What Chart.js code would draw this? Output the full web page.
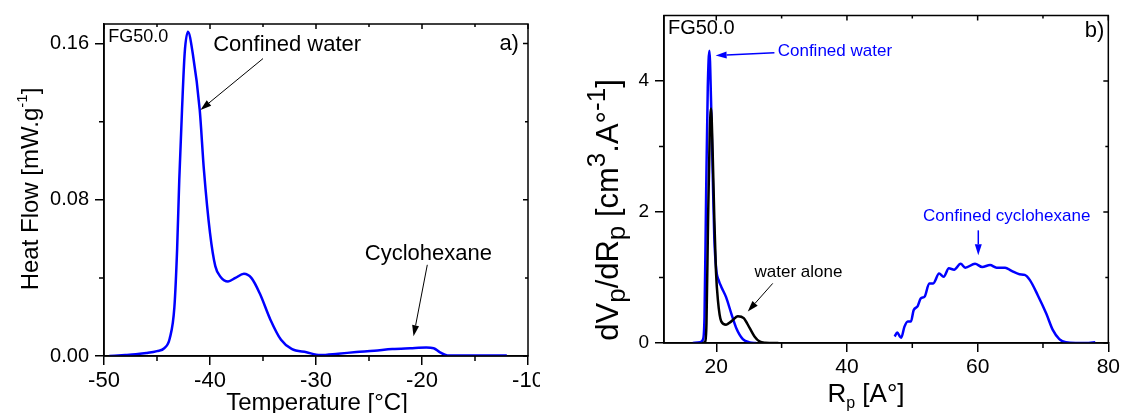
<!DOCTYPE html>
<html lang="en">

<head>
  <title>FG50.0 - DSC and pore size distribution</title>
  <meta charset="UTF-8">
  <script src="https://cdn.jsdelivr.net/npm/chart.js@4.4.1/dist/chart.umd.min.js"></script>
  <style>
    body { margin: 0; background: #fff; }
    #wrap { position: relative; width: 1125px; height: 413px; overflow: hidden; background: #fff; }
    #left { position: absolute; left: 0; top: 0; width: 540px; height: 413px; overflow: hidden; }
    #right { position: absolute; left: 540px; top: 0; width: 585px; height: 413px; }
  </style>
</head>

<body>
  <div id="wrap">
    <div id="left"><canvas id="dsc" width="560" height="413" style="width:560px;height:413px"></canvas></div>
    <div id="right"><canvas id="psd" width="585" height="413" style="width:585px;height:413px"></canvas></div>
  </div>
  <script>
    // a) DSC melting curve
    const tempC = [-49.5, -48, -47, -46, -45, -44.3, -43.8, -43.36, -43.1, -42.9, -42.64, -42.39, -42.08, -41.63,
      -40.97, -40.57, -40.0, -39.5, -39.0, -38.3, -37.6, -36.8, -36.1, -35.3, -34.3, -33.3, -32.3, -30.9, -29.6,
      -27.9, -26.2, -24.5, -22.8, -21.1, -19.6, -18.9, -18.3, -17.6, -16, -14, -12];
    const heatFlow = [0, 0.0005, 0.0009, 0.0015, 0.0025, 0.004, 0.009, 0.025, 0.055, 0.09, 0.126, 0.155, 0.166, 0.155,
      0.126, 0.095, 0.063, 0.046, 0.0405, 0.0382, 0.040, 0.0421, 0.040, 0.032, 0.0186, 0.0083, 0.0036, 0.0019, 0.0005,
      0.0012, 0.002, 0.0027, 0.0036, 0.004, 0.0043, 0.004, 0.0019, 0.0003, 0.0002, 0.0002, 0.0002];
    const dscXTicks = [-50, -40, -30, -20, -10];
    const dscXMinor = [-45, -35, -25, -15];
    const dscYTicks = [0, 0.08, 0.16];
    const dscYMinor = [0.04, 0.12];

    // b) pore size distributions
    const radiusWater = [16.4, 17.5, 17.95, 18.2, 18.45, 18.7, 18.95, 19.2, 19.45, 19.7, 20.0, 20.4, 20.76, 21.5,
      22.3, 23.05, 24.06, 25.1, 26.1];
    const dvWater = [0, 0.01, 0.05, 0.4, 2.3, 3.9, 4.46, 3.7, 2.6, 1.6, 1.12, 0.95, 0.86, 0.70, 0.45, 0.23, 0.06, 0.01, 0];
    const radiusAlone = [17.9, 18.3, 18.5, 18.75, 19.0, 19.2, 19.45, 19.7, 19.95, 20.25, 20.76, 21.5, 22.3, 23.3,
      24.2, 25.1, 25.85, 26.6, 27.5, 29.5];
    const dvAlone = [0, 0.02, 0.3, 1.9, 3.2, 3.58, 2.9, 1.9, 1.1, 0.655, 0.33, 0.28, 0.33, 0.41, 0.38, 0.23, 0.1,
      0.025, 0.005, 0];
    const radiusCyclo = [47.3, 47.7, 48.1, 48.3, 48.8, 49.3, 49.8, 50.2, 50.8, 51.3, 51.9, 52.6, 53.2, 54.1, 54.8,
      55.6, 56.4, 57.4, 58.1, 59.6, 60.7, 61.9, 62.9, 64.2, 65.2, 66.4, 67.2, 68.0, 69.2, 70.5, 71.5, 72.5, 73.5,
      75, 77, 78];
    const dvCyclo = [0.10, 0.16, 0.10, 0.08, 0.25, 0.33, 0.33, 0.50, 0.56, 0.68, 0.71, 0.91, 0.91, 1.06, 1.01, 1.14,
      1.12, 1.21, 1.15, 1.21, 1.16, 1.19, 1.15, 1.15, 1.10, 1.05, 1.04, 0.96, 0.73, 0.45, 0.20, 0.06, 0.01, 0, 0, 0.01];
    const psdXTicks = [20, 40, 60, 80];
    const psdXMinor = [30, 50, 70];
    const psdYTicks = [0, 2, 4];
    const psdYMinor = [1, 3];

    const BLUE = '#0000ff';
    const FONT = "'Liberation Sans', Arial, sans-serif";
    Chart.defaults.font.family = FONT;
    Chart.defaults.color = '#000';

    const zip = (xs, ys) => xs.map((x, i) => ({ x: x, y: ys[i] }));

    // text with sub/superscript pieces, centred on x (or y when rotated), baseline at the other coordinate
    function richText(ctx, t) {
      const size = t.size;
      const small = Math.round(size * (t.scriptScale || 0.62));
      const parts = t.parts;
      const fonts = parts.map(p => (p[1] === 'n' ? size : small) + 'px ' + FONT);
      const widths = parts.map((p, i) => { ctx.font = fonts[i]; return ctx.measureText(p[0]).width; });
      const total = widths.reduce((a, b) => a + b, 0);
      ctx.save();
      ctx.translate(t.x, t.y);
      if (t.rotate) ctx.rotate(-Math.PI / 2);
      ctx.textBaseline = 'alphabetic';
      ctx.textAlign = 'left';
      ctx.fillStyle = '#000';
      let cx = -total / 2;
      parts.forEach((p, i) => {
        const dy = p[1] === 'sup' ? -size * 0.42 : p[1] === 'sub' ? size * 0.24 : 0;
        ctx.font = fonts[i];
        ctx.fillText(p[0], cx, dy);
        cx += widths[i];
      });
      ctx.restore();
    }

    function arrow(ctx, x1, y1, x2, y2, color, width) {
      const head = 11, half = 3.5;
      const ang = Math.atan2(y2 - y1, x2 - x1);
      const bx = x2 - head * Math.cos(ang), by = y2 - head * Math.sin(ang);
      ctx.strokeStyle = color;
      ctx.fillStyle = color;
      ctx.lineWidth = width;
      ctx.beginPath();
      ctx.moveTo(x1, y1);
      ctx.lineTo(bx, by);
      ctx.stroke();
      ctx.beginPath();
      ctx.moveTo(x2, y2);
      ctx.lineTo(bx + half * Math.sin(ang), by - half * Math.cos(ang));
      ctx.lineTo(bx - half * Math.sin(ang), by + half * Math.cos(ang));
      ctx.closePath();
      ctx.fill();
    }

    // frame, minor ticks, mirrored ticks, notes, arrows and axis titles
    function makeDecor(cfg) {
      return {
        id: 'decor',
        afterDatasetsDraw(chart) {
          const { ctx, chartArea: a } = chart;
          const sx = chart.scales.x, sy = chart.scales.y;
          ctx.save();
          ctx.strokeStyle = '#000';
          ctx.lineWidth = 1.5;
          ctx.strokeRect(a.left, a.top, a.right - a.left, a.bottom - a.top);
          ctx.beginPath();
          cfg.xMinor.forEach(v => {
            const p = sx.getPixelForValue(v);
            ctx.moveTo(p, a.bottom); ctx.lineTo(p, a.bottom + 5);
            ctx.moveTo(p, a.top); ctx.lineTo(p, a.top + 3);
          });
          cfg.xMajor.forEach(v => {
            const p = sx.getPixelForValue(v);
            ctx.moveTo(p, a.top); ctx.lineTo(p, a.top + 5);
          });
          cfg.yMinor.forEach(v => {
            const p = sy.getPixelForValue(v);
            ctx.moveTo(a.left, p); ctx.lineTo(a.left - 5, p);
            ctx.moveTo(a.right, p); ctx.lineTo(a.right - 3, p);
          });
          cfg.yMajor.forEach(v => {
            const p = sy.getPixelForValue(v);
            ctx.moveTo(a.right, p); ctx.lineTo(a.right - 5, p);
          });
          ctx.stroke();

          cfg.notes.forEach(n => {
            ctx.font = n.size + 'px ' + FONT;
            ctx.fillStyle = n.color || '#000';
            ctx.textAlign = 'left';
            ctx.textBaseline = 'middle';
            ctx.fillText(n.text, sx.getPixelForValue(n.x), sy.getPixelForValue(n.y));
          });
          cfg.arrows.forEach(r => {
            arrow(ctx, sx.getPixelForValue(r.from[0]), sy.getPixelForValue(r.from[1]),
              sx.getPixelForValue(r.to[0]), sy.getPixelForValue(r.to[1]), r.color || '#000', r.width || 1);
          });
          cfg.titles.forEach(t => richText(ctx, t));
          ctx.restore();
        }
      };
    }

    function axis(min, max, ticks, fmt, size, pad, fit) {
      return {
        type: 'linear', min: min, max: max,
        afterBuildTicks: s => { s.ticks = ticks.map(v => ({ value: v })); },
        afterFit: fit,
        ticks: { font: { size: size, lineHeight: 1 }, padding: pad, callback: fmt, autoSkip: false, maxRotation: 0 },
        grid: { drawOnChartArea: false, drawTicks: true, tickLength: 9, color: '#000', lineWidth: 1.5 },
        border: { color: '#000', width: 1.5 }
      };
    }

    const baseOptions = {
      responsive: false,
      animation: false,
      elements: { point: { radius: 0 }, line: { cubicInterpolationMode: 'monotone' } },
      plugins: { legend: { display: false }, tooltip: { enabled: false } }
    };

    new Chart(document.getElementById('dsc'), {
      type: 'line',
      data: {
        datasets: [{ data: zip(tempC, heatFlow), borderColor: BLUE, borderWidth: 2.5 }]
      },
      options: Object.assign({}, baseOptions, {
        layout: { padding: { top: 24, right: 32, left: 0, bottom: 0 } },
        scales: {
          x: axis(-50, -10, dscXTicks, v => String(v), 22, 5, s => { s.height = 57; }),
          y: axis(0, 0.17, dscYTicks, v => v.toFixed(2), 20, 6, s => { s.width = 104; })
        }
      }),
      plugins: [makeDecor({
        xMajor: dscXTicks, xMinor: dscXMinor, yMajor: dscYTicks, yMinor: dscYMinor,
        notes: [
          { text: 'FG50.0', x: -49.6, y: 0.1634, size: 18 },
          { text: 'Confined water', x: -39.7, y: 0.1595, size: 22 },
          { text: 'a)', x: -12.7, y: 0.160, size: 22 },
          { text: 'Cyclohexane', x: -25.4, y: 0.0523, size: 22 }
        ],
        arrows: [
          { from: [-35.0, 0.1523], to: [-40.9, 0.126] },
          { from: [-19.5, 0.0467], to: [-20.8, 0.0101] }
        ],
        titles: [
          { parts: [['Heat Flow [mW.g', 'n'], ['-1', 'sup'], [']', 'n']], x: 37.5, y: 189, size: 24, rotate: true },
          { parts: [['Temperature [°C]', 'n']], x: 317, y: 410, size: 24 }
        ]
      })]
    });

    new Chart(document.getElementById('psd'), {
      type: 'line',
      data: {
        datasets: [
          { label: 'water alone', data: zip(radiusAlone, dvAlone), borderColor: '#000', borderWidth: 2.5 },
          { label: 'confined water', data: zip(radiusWater, dvWater), borderColor: BLUE, borderWidth: 2.5 },
          { label: 'confined cyclohexane', data: zip(radiusCyclo, dvCyclo), borderColor: BLUE, borderWidth: 2.5 }
        ]
      },
      options: Object.assign({}, baseOptions, {
        layout: { padding: { top: 13, right: 13, left: 0, bottom: 0 } },
        scales: {
          x: axis(12, 80, psdXTicks, v => String(v), 21, 5, s => { s.height = 70; }),
          y: axis(0, 5, psdYTicks, v => String(v), 19, 6, s => { s.width = 124; })
        }
      }),
      plugins: [makeDecor({
        xMajor: psdXTicks, xMinor: psdXMinor, yMajor: psdYTicks, yMinor: psdYMinor,
        notes: [
          { text: 'FG50.0', x: 12.6, y: 4.80, size: 20 },
          { text: 'b)', x: 76.4, y: 4.77, size: 22 },
          { text: 'Confined water', x: 29.4, y: 4.45, size: 17, color: BLUE },
          { text: 'water alone', x: 25.85, y: 1.08, size: 17 },
          { text: 'Confined cyclohexane', x: 51.65, y: 1.93, size: 17, color: BLUE }
        ],
        arrows: [
          { from: [28.9, 4.43], to: [19.9, 4.39], color: BLUE, width: 1.5 },
          { from: [28.64, 0.91], to: [24.82, 0.48] },
          { from: [60.1, 1.72], to: [60.1, 1.34], color: BLUE, width: 1.5 }
        ],
        titles: [
          {
            parts: [['dV', 'n'], ['p', 'sub'], ['/dR', 'n'], ['p', 'sub'], [' [cm', 'n'], ['3', 'sup'], ['.A°', 'n'],
              ['-1', 'sup'], [']', 'n']], x: 78, y: 210, size: 31, scriptScale: 0.85, rotate: true
          },
          { parts: [['R', 'n'], ['p', 'sub'], [' [A°]', 'n']], x: 326, y: 402, size: 26 }
        ]
      })]
    });
  </script>
</body>

</html>
